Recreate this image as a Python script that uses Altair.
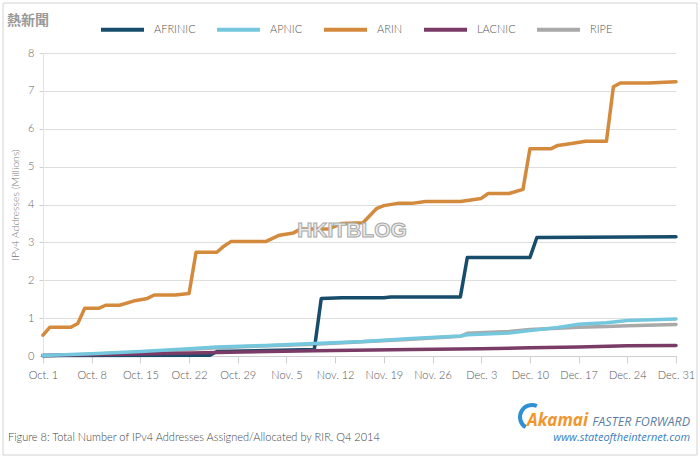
import altair as alt
import pandas as pd

SERIES = ["AFRINIC", "APNIC", "ARIN", "LACNIC", "RIPE"]
COLORS = ["#174d6b", "#74c7dd", "#d38a3d", "#7a3b67", "#a9a9a9"]
DRAW_ORDER = ["RIPE", "AFRINIC", "LACNIC", "APNIC", "ARIN"]

AFRINIC_DATES = ["2014-10-01", "2014-10-25", "2014-10-26", "2014-11-09", "2014-11-10",
                 "2014-11-13", "2014-11-19", "2014-11-20", "2014-11-30", "2014-12-01",
                 "2014-12-10", "2014-12-11", "2014-12-31"]
AFRINIC_VALUES = [0.01, 0.02, 0.12, 0.17, 1.52, 1.54, 1.54, 1.56, 1.56, 2.60, 2.60, 3.13, 3.15]

APNIC_DATES = ["2014-10-01", "2014-10-08", "2014-10-15", "2014-10-22", "2014-10-26",
               "2014-11-02", "2014-11-09", "2014-11-16", "2014-11-23", "2014-11-30",
               "2014-12-01", "2014-12-07", "2014-12-10", "2014-12-14", "2014-12-17",
               "2014-12-21", "2014-12-24", "2014-12-31"]
APNIC_VALUES = [0.01, 0.06, 0.12, 0.19, 0.24, 0.28, 0.33, 0.38, 0.46, 0.53,
                0.56, 0.61, 0.67, 0.75, 0.84, 0.88, 0.94, 0.98]

ARIN_DATES = ["2014-10-01", "2014-10-02", "2014-10-05", "2014-10-06", "2014-10-07",
              "2014-10-09", "2014-10-10", "2014-10-12", "2014-10-14", "2014-10-16",
              "2014-10-17", "2014-10-20", "2014-10-22", "2014-10-23", "2014-10-26",
              "2014-10-27", "2014-10-28", "2014-11-02", "2014-11-04", "2014-11-06",
              "2014-11-07", "2014-11-11", "2014-11-13", "2014-11-16", "2014-11-18",
              "2014-11-19", "2014-11-21", "2014-11-23", "2014-11-25", "2014-11-30",
              "2014-12-03", "2014-12-04", "2014-12-07", "2014-12-09", "2014-12-10",
              "2014-12-13", "2014-12-14", "2014-12-16", "2014-12-18", "2014-12-21",
              "2014-12-22", "2014-12-23", "2014-12-27", "2014-12-31"]
ARIN_VALUES = [0.55, 0.76, 0.76, 0.86, 1.26, 1.26, 1.34, 1.34, 1.45, 1.52,
               1.61, 1.61, 1.65, 2.74, 2.74, 2.90, 3.02, 3.02, 3.19, 3.25,
               3.35, 3.35, 3.50, 3.52, 3.90, 3.97, 4.03, 4.03, 4.08, 4.08,
               4.16, 4.29, 4.29, 4.40, 5.47, 5.47, 5.56, 5.61, 5.67, 5.67,
               7.11, 7.21, 7.21, 7.24]

LACNIC_DATES = ["2014-10-01", "2014-10-15", "2014-10-26", "2014-11-09", "2014-11-23",
                "2014-12-03", "2014-12-10", "2014-12-17", "2014-12-24", "2014-12-31"]
LACNIC_VALUES = [0.01, 0.05, 0.09, 0.14, 0.17, 0.19, 0.22, 0.24, 0.27, 0.28]

RIPE_DATES = ["2014-10-01", "2014-10-15", "2014-10-26", "2014-11-09", "2014-11-23",
              "2014-11-30", "2014-12-01", "2014-12-07", "2014-12-10", "2014-12-14",
              "2014-12-17", "2014-12-21", "2014-12-24", "2014-12-31"]
RIPE_VALUES = [0.00, 0.10, 0.22, 0.31, 0.44, 0.52, 0.60, 0.65, 0.70, 0.73,
               0.76, 0.78, 0.80, 0.83]

TICK_DATES = ["2014-10-01", "2014-10-08", "2014-10-15", "2014-10-22", "2014-10-29",
              "2014-11-05", "2014-11-12", "2014-11-19", "2014-11-26", "2014-12-03",
              "2014-12-10", "2014-12-17", "2014-12-24", "2014-12-31"]
Y_TICKS = [0, 1, 2, 3, 4, 5, 6, 7, 8]

Y_TITLE = "IPv4 Addresses (Millions)"
CAPTION = "Figure 8: Total Number of IPv4 Addresses Assigned/Allocated by RIR, Q4 2014"
BRAND = "Akamai"
SLOGAN = "FASTER FORWARD"
WEBSITE = "www.stateoftheinternet.com"
WATERMARK = "HKITBLOG"
SITE_LOGO = "熱新聞"

FONT = "Lato"


def ms(d):
    return int(pd.Timestamp(d, tz="UTC").value // 10**6)


series_data = {
    "AFRINIC": (AFRINIC_DATES, AFRINIC_VALUES),
    "APNIC": (APNIC_DATES, APNIC_VALUES),
    "ARIN": (ARIN_DATES, ARIN_VALUES),
    "LACNIC": (LACNIC_DATES, LACNIC_VALUES),
    "RIPE": (RIPE_DATES, RIPE_VALUES),
}
rows = []
for name, (dates, vals) in series_data.items():
    for d, v in zip(dates, vals):
        rows.append({"rir": name, "date": d, "value": v})
df = pd.DataFrame(rows)

x_enc = alt.X(
    "date:T",
    title=None,
    scale=alt.Scale(type="utc", domain=[ms(TICK_DATES[0]), ms(TICK_DATES[-1])]),
    axis=alt.Axis(
        values=[ms(d) for d in TICK_DATES],
        labelExpr="utcFormat(datum.value, '%b. %-d')",
        grid=False,
        domainColor="#cfcfcf",
        tickColor="#cfcfcf",
        tickSize=7,
        labelPadding=6,
        labelFont=FONT,
        labelFontSize=11,
        labelFontWeight=300,
        labelColor="#555555",
        labelFlush=False,
        labelOverlap=False,
    ),
)
y_enc = alt.Y(
    "value:Q",
    scale=alt.Scale(domain=[0, 8], nice=False),
    axis=alt.Axis(
        values=Y_TICKS,
        title=Y_TITLE,
        grid=True,
        gridColor="#dedede",
        domainColor="#e4e4e4",
        tickColor="#cfcfcf",
        tickSize=4,
        labelPadding=5,
        labelFont=FONT,
        labelFontSize=11,
        labelFontWeight=300,
        labelColor="#666666",
        titleFont=FONT,
        titleFontSize=10.5,
        titleFontWeight=300,
        titleColor="#777777",
        titlePadding=7,
    ),
)
color_enc = alt.Color(
    "rir:N",
    scale=alt.Scale(domain=SERIES, range=COLORS),
    legend=alt.Legend(
        title=None,
        orient="none",
        legendX=56,
        legendY=-47,
        direction="horizontal",
        symbolType="stroke",
        symbolSize=1849,
        symbolStrokeWidth=4,
        labelFont=FONT,
        labelFontSize=11,
        labelFontWeight=300,
        labelColor="#555555",
        labelOffset=8,
        columnPadding=13,
    ),
)

base = alt.Chart(df)
lines = [
    base.transform_filter(alt.datum.rir == name)
    .mark_line(strokeWidth=3.5, strokeJoin="round", strokeCap="round")
    .encode(x=x_enc, y=y_enc, color=color_enc)
    for name in DRAW_ORDER
]

one = pd.DataFrame({"k": [0]})
frame = alt.Chart(one).mark_rect(fillOpacity=0, stroke="#d2d2d2", strokeWidth=1).encode(
    x=alt.value(-40), x2=alt.value(654), y=alt.value(-50), y2=alt.value(402)
)

caption = alt.Chart(pd.DataFrame({"t": [CAPTION]})).mark_text(
    align="left", baseline="alphabetic", font=FONT, fontSize=11, fontWeight=300,
    color="#444444"
).encode(text="t:N", x=alt.value(-35), y=alt.value(388))

brand = alt.Chart(pd.DataFrame({"t": [BRAND]})).mark_text(
    align="left", baseline="alphabetic", font="Open Sans", fontSize=17, fontWeight="bold",
    fontStyle="italic", color="#f0962d"
).encode(text="t:N", x=alt.value(484), y=alt.value(373))

slogan = alt.Chart(pd.DataFrame({"t": [SLOGAN]})).mark_text(
    align="right", baseline="alphabetic", font="Open Sans", fontSize=12.5,
    fontStyle="italic", color="#5d7fa3"
).encode(text="t:N", x=alt.value(647), y=alt.value(373))

website = alt.Chart(pd.DataFrame({"t": [WEBSITE]})).mark_text(
    align="right", baseline="alphabetic", font="Open Sans", fontSize=11,
    fontStyle="italic", color="#3a7fc0"
).encode(text="t:N", x=alt.value(647), y=alt.value(388))

swoosh = alt.Chart(one).mark_arc(
    theta=3.7, theta2=6.7, radius=14, radius2=10, color="#2f8fd4"
).encode(x=alt.value(489), y=alt.value(364))

wm = alt.Chart(pd.DataFrame({"t": [WATERMARK]})).mark_text(
    align="center", baseline="middle", font="Liberation Sans", fontSize=21,
    fontWeight="bold", fill="#ececec", stroke="#a8a8a8", strokeWidth=1
).encode(text="t:N", x=alt.value(309), y=alt.value(178))

site_logo = alt.Chart(pd.DataFrame({"t": [SITE_LOGO]})).mark_text(
    align="left", baseline="middle", font="Noto Sans CJK TC", fontSize=14,
    fontWeight="bold", color="#9a9a9a"
).encode(text="t:N", x=alt.value(-36), y=alt.value(-32))

chart = alt.layer(
    frame, *lines, wm, caption, swoosh, brand, slogan, website, site_logo
).properties(
    width=633,
    height=303,
    padding={"left": 43, "top": 53, "right": 24, "bottom": 102},
    autosize=alt.AutoSizeParams(type="none"),
    background="white",
).configure_view(strokeWidth=0)

chart.save("out.html", embed_options={"renderer": "svg", "actions": False})
